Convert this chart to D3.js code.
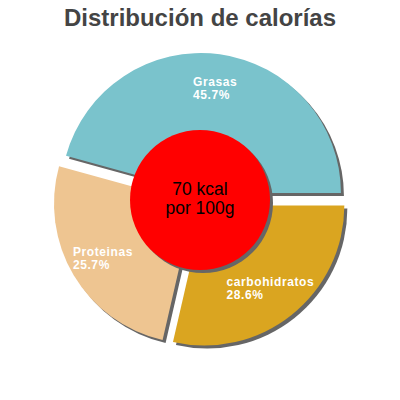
<!DOCTYPE html>
<html><head><meta charset="utf-8">
<script src="https://cdn.jsdelivr.net/npm/d3@7"></script>
<style>body{margin:0;background:#fff}svg{display:block}</style>
</head><body>
<svg id="c" width="400" height="400"></svg>
<script>
const title = "Distribución de calorías";
const categories = ["Grasas", "Proteinas", "carbohidratos"];
const values = [45.7, 25.7, 28.6];
const labels = ["45.7%", "25.7%", "28.6%"];
const colors = ["#7ac3cc", "#eec591", "#daa520"];
const centerLines = ["70 kcal", "por 100g"];

const svg = d3.select("#c");
const cx = 200, cy = 200, R = 140, explode = 7, innerLabelR = 106;

svg.append("text").attr("x", 200).attr("y", 26).attr("text-anchor", "middle")
  .attr("font-family", "Liberation Sans, Arial, sans-serif").attr("font-weight", "bold")
  .attr("font-size", 24).attr("fill", "#444").text(title);

const pie = d3.pie().sort(null).startAngle(Math.PI / 2).endAngle(Math.PI / 2 - 2 * Math.PI);
const arcs = pie(values);
const arc = d3.arc().innerRadius(0).outerRadius(R);
const g = svg.append("g").attr("transform", `translate(${cx},${cy})`);

function off(d, r) {
  const a = (d.startAngle + d.endAngle) / 2;
  return [Math.sin(a) * r, -Math.cos(a) * r];
}

g.selectAll("path.sh").data(arcs).join("path").attr("class", "sh")
  .attr("d", arc).attr("fill", "#666")
  .attr("transform", d => { const o = off(d, explode); return `translate(${o[0] + 3},${o[1] + 3})`; });
g.selectAll("path.sl").data(arcs).join("path").attr("class", "sl")
  .attr("d", arc).attr("fill", (d, i) => colors[i])
  .attr("transform", d => { const o = off(d, explode); return `translate(${o[0]},${o[1]})`; });

g.append("circle").attr("cx", 3).attr("cy", 3).attr("r", 70).attr("fill", "#666");
g.append("circle").attr("r", 70).attr("fill", "#ff0000");
g.selectAll("text.center").data(centerLines).join("text").attr("class", "center")
  .attr("x", 0).attr("y", (d, i) => -5 + i * 19).attr("text-anchor", "middle")
  .attr("font-family", "Liberation Sans, Arial, sans-serif").attr("font-size", 17.5)
  .attr("fill", "#000").text(d => d);

arcs.forEach((d, i) => {
  const p = off(d, innerLabelR + explode);
  const t = g.append("text").attr("font-family", "Liberation Sans, Arial, sans-serif")
    .attr("font-size", 12).attr("font-weight", "bold").attr("letter-spacing", 0.6).attr("fill", "#fff");
  const l1 = t.append("tspan").text(categories[i]);
  const l2 = t.append("tspan").text(labels[i]);
  const w = Math.max(l1.node().getComputedTextLength(), l2.node().getComputedTextLength());
  const x0 = p[0] - w / 2;
  l1.attr("x", x0).attr("y", p[1] - 2);
  l2.attr("x", x0).attr("y", p[1] + 11);
});
</script>
</body></html>
